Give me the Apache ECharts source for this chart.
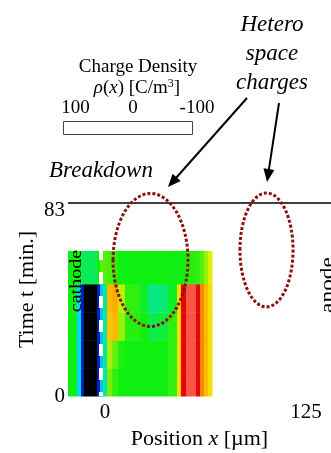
<!DOCTYPE html>
<html>
<head>
<meta charset="utf-8">
<style>
  html, body { margin: 0; padding: 0; background: #fff; }
  #main { width: 331px; height: 453px; }
</style>
<script src="https://cdn.jsdelivr.net/npm/echarts@6/dist/echarts.min.js"></script>
</head>
<body>
<div id="main"></div>
<script>
// Space-charge map: column edges along the sample thickness (µm)
const positionEdges = [-23, -17.4, -14.9, -13.1, -5.0, -3.1, -1.2, 1.2, 4.4, 8.1, 12.4,
  21.8, 26.7, 32.9, 39.2, 44.8, 47.2, 50.4, 56.6, 59.1, 61.5, 64.0, 66.5];
// Time band edges (min)
const timeEdges = [0, 12, 24, 36, 48.2, 62.4];
// Charge density per band, one value per column (C/m^3), from t = 0 upwards
const chargeBand0 = [0, -35, -85, -130, -85, -40, -20, 15, 5, 0, 0, 0, 0, 0, 5, 40, 100, 125, 100, 70, 55, 40];
const chargeBand1 = [0, -35, -85, -130, -85, -40, -20, 22, 12, 2, 0, 0, 0, 0, 5, 40, 100, 125, 100, 70, 55, 40];
const chargeBand2 = [0, -35, -85, -130, -85, -40, -20, 50, 55, 20, 3, 0, -8, -6, 5, 40, 100, 125, 100, 70, 55, 40];
const chargeBand3 = [0, -35, -85, -130, -85, -40, -20, 55, 60, 25, 5, -4, -16, -14, -3, 40, 100, 125, 100, 70, 55, 40];
const chargeBand4 = [0, 0, -10, -10, 0, 10, 10, 8, 4, 0, 0, 0, 0, 0, 0, 0, 0, 3, 5, 10, 20, 30];
const chargeBands = [chargeBand0, chargeBand1, chargeBand2, chargeBand3, chargeBand4];

const xTickValues = [0, 125];
const yTickValues = [0, 83];
const colorbarTicks = ['100', '0', '-100'];
const breakdownTime = 83;
const cathodeSurface = -2.5;

// Highlighted regions (µm, min)
const regionA = { x: 28.3, t: 58.5, rx: 23.3, rt: 28.6 };
const regionB = { x: 100.4, t: 62.8, rx: 16.5, rt: 24.5 };

const cells = [];
for (let r = 0; r < chargeBands.length; r++) {
  for (let c = 0; c < positionEdges.length - 1; c++) {
    cells.push([positionEdges[c], positionEdges[c + 1], timeEdges[r], timeEdges[r + 1], chargeBands[r][c]]);
  }
}

const FONT = 'Liberation Serif';
const chart = echarts.init(document.getElementById('main'), null, { renderer: 'canvas' });

chart.setOption({
  animation: false,
  grid: { left: 68, right: 0, top: 203, bottom: 57 },
  xAxis: {
    type: 'value', min: -23, max: 140.5,
    axisLine: { show: false }, axisTick: { show: false }, splitLine: { show: false },
    axisLabel: { customValues: xTickValues, fontFamily: FONT, fontSize: 21, color: '#000', margin: 6 },
    name: '{n|Position }{i|x}{n| [µm]}',
    nameLocation: 'middle', nameGap: 32,
    nameTextStyle: {
      rich: {
        n: { fontFamily: FONT, fontSize: 22, color: '#000' },
        i: { fontFamily: FONT, fontSize: 22, fontStyle: 'italic', color: '#000' }
      }
    }
  },
  yAxis: {
    type: 'value', min: 0, max: 83,
    axisLine: { show: false }, axisTick: { show: false }, splitLine: { show: false },
    axisLabel: {
      customValues: yTickValues, margin: 3,
      formatter: v => v === 83 ? '{lo|83}' : '{n|' + v + '}',
      rich: {
        n: { fontFamily: FONT, fontSize: 21, color: '#000' },
        lo: { fontFamily: FONT, fontSize: 21, color: '#000', padding: [14, 0, 0, 0] }
      }
    },
    name: 'Time t [min.]', nameLocation: 'middle', nameRotate: 90, nameGap: 30,
    nameMoveOverlap: false,
    nameTextStyle: { fontFamily: FONT, fontSize: 22, color: '#000', padding: [0, 0, 0, 20] }
  },
  visualMap: {
    type: 'continuous', show: false, dimension: 4, min: -130, max: 130, seriesIndex: 0,
    inRange: { color: ['#000000', '#000090', '#0050ff', '#00e0ff', '#10f010', '#f0f000', '#ffa000', '#e00000', '#ff6450'] }
  },
  series: [{
    type: 'custom',
    data: cells,
    encode: { x: [0, 1], y: [2, 3] },
    renderItem: (params, api) => {
      const p0 = api.coord([api.value(0), api.value(3)]);
      const p1 = api.coord([api.value(1), api.value(2)]);
      return {
        type: 'rect',
        shape: { x: p0[0], y: p0[1], width: p1[0] - p0[0] + 0.5, height: p1[1] - p0[1] + 0.5 },
        style: { fill: api.visual('color') }
      };
    },
    markLine: {
      silent: true, symbol: 'none', label: { show: false },
      data: [
        { yAxis: breakdownTime, lineStyle: { color: '#000', width: 1.5, type: 'solid' } },
        [
          { coord: [cathodeSurface, 0], lineStyle: { color: '#fff', width: 4, type: [12, 12], dashOffset: 8 } },
          { coord: [cathodeSurface, timeEdges[timeEdges.length - 1]] }
        ]
      ]
    }
  }]
});

// Annotations
function ellipseFor(reg) {
  const c = chart.convertToPixel({ gridIndex: 0 }, [reg.x, reg.t]);
  const e = chart.convertToPixel({ gridIndex: 0 }, [reg.x + reg.rx, reg.t + reg.rt]);
  return {
    type: 'ellipse', z: 100,
    shape: { cx: c[0], cy: c[1], rx: Math.abs(e[0] - c[0]), ry: Math.abs(e[1] - c[1]) },
    style: { fill: 'none', stroke: '#8a1111', lineWidth: 3, lineDash: [3, 2] }
  };
}
function arrow(tail, tip) {
  const dx = tip[0] - tail[0], dy = tip[1] - tail[1];
  const len = Math.hypot(dx, dy), ux = dx / len, uy = dy / len;
  const hl = 13, hw = 5.5;
  const bx = tip[0] - ux * hl, by = tip[1] - uy * hl;
  return [
    { type: 'line', z: 100, shape: { x1: tail[0], y1: tail[1], x2: bx + ux * 2, y2: by + uy * 2 },
      style: { stroke: '#000', lineWidth: 2 } },
    { type: 'polygon', z: 100,
      shape: { points: [tip, [bx - uy * hw, by + ux * hw], [bx + uy * hw, by - ux * hw]] },
      style: { fill: '#000' } }
  ];
}
const txt = (x, y, text, size, extra) => ({
  type: 'text', x, y, z: 100,
  style: Object.assign({ text, fontFamily: FONT, fontSize: size, fill: '#000', align: 'center', verticalAlign: 'middle' }, extra || {})
});

chart.setOption({
  graphic: [
    txt(272, 10, 'Hetero\nspace\ncharges', 23, { fontStyle: 'italic', lineHeight: 29, verticalAlign: 'top' }),
    txt(101, 171, 'Breakdown', 23, { fontStyle: 'italic' }),
    txt(138, 67, 'Charge Density', 19),
    {
      type: 'text', x: 137, y: 88, z: 100,
      style: {
        text: '{i|ρ}{n|(}{i|x}{n|) [C/m}{s|3}{n|]}',
        align: 'center', verticalAlign: 'middle',
        rich: {
          n: { fontFamily: FONT, fontSize: 19, fill: '#000', lineHeight: 20 },
          i: { fontFamily: FONT, fontSize: 19, fontStyle: 'italic', fill: '#000', lineHeight: 20 },
          s: { fontFamily: FONT, fontSize: 12, fill: '#000', lineHeight: 12, verticalAlign: 'top' }
        }
      }
    },
    txt(75.5, 108, colorbarTicks[0], 19),
    txt(133, 108, colorbarTicks[1], 19),
    txt(197, 108, colorbarTicks[2], 19),
    { type: 'rect', z: 100, shape: { x: 63.5, y: 121.5, width: 129, height: 13 },
      style: { fill: '#fff', stroke: '#444', lineWidth: 1 } },
    Object.assign(txt(77, 281, 'cathode', 17), { rotation: Math.PI / 2, scaleX: 1.18 }),
    Object.assign(txt(328, 285, 'anode', 18), { rotation: Math.PI / 2, scaleX: 1.3 }),
    ellipseFor(regionA),
    ellipseFor(regionB),
    ...arrow([247, 98], [168, 187]),
    ...arrow([279, 103], [267, 182])
  ]
});
</script>
</body>
</html>
